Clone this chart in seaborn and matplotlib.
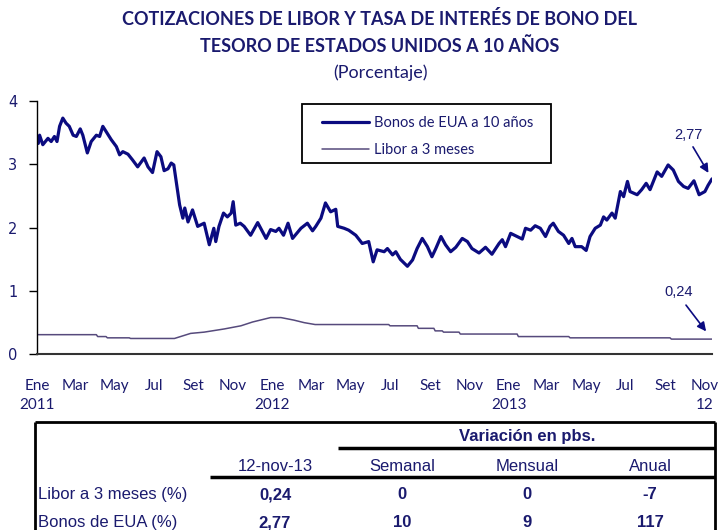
import pandas as pd
import matplotlib
matplotlib.use("Agg")
import matplotlib.pyplot as plt
from matplotlib.lines import Line2D
from matplotlib.patches import Rectangle
import seaborn as sns


# Bonos del Tesoro de EUA a 10 años (%)
bono_fechas = [
    "2011-01-03", "2011-01-05", "2011-01-10", "2011-01-18", "2011-01-23", "2011-01-28",
    "2011-02-01", "2011-02-05", "2011-02-10", "2011-02-15", "2011-02-20", "2011-02-26",
    "2011-03-03", "2011-03-09", "2011-03-13", "2011-03-20", "2011-03-26", "2011-04-03",
    "2011-04-08", "2011-04-13", "2011-04-18", "2011-04-26", "2011-05-04", "2011-05-09",
    "2011-05-14", "2011-05-22", "2011-05-29", "2011-06-06", "2011-06-16", "2011-06-22",
    "2011-06-29", "2011-07-06", "2011-07-12", "2011-07-17", "2011-07-23", "2011-07-28",
    "2011-08-01", "2011-08-07", "2011-08-10", "2011-08-15", "2011-08-18", "2011-08-23",
    "2011-08-30", "2011-09-07", "2011-09-17", "2011-09-25", "2011-10-02", "2011-10-05",
    "2011-10-10", "2011-10-17", "2011-10-23", "2011-10-29", "2011-11-01", "2011-11-05",
    "2011-11-12", "2011-11-18", "2011-11-28", "2011-12-09", "2011-12-22", "2011-12-29",
    "2012-01-06", "2012-01-11", "2012-01-18", "2012-01-25", "2012-02-01", "2012-02-14",
    "2012-02-24", "2012-03-03", "2012-03-08", "2012-03-16", "2012-03-23", "2012-03-31",
    "2012-04-08", "2012-04-11", "2012-04-21", "2012-04-28", "2012-05-09", "2012-05-19",
    "2012-05-29", "2012-06-05", "2012-06-11", "2012-06-22", "2012-06-27", "2012-07-05",
    "2012-07-10", "2012-07-17", "2012-07-28", "2012-08-05", "2012-08-12", "2012-08-20",
    "2012-08-28", "2012-09-04", "2012-09-10", "2012-09-18", "2012-09-25", "2012-10-03",
    "2012-10-11", "2012-10-21", "2012-10-29", "2012-11-05", "2012-11-16", "2012-11-26",
    "2012-12-06", "2012-12-17", "2012-12-22", "2012-12-27", "2013-01-04", "2013-01-14",
    "2013-01-22", "2013-01-27", "2013-02-04", "2013-02-11", "2013-02-19", "2013-02-27",
    "2013-03-06", "2013-03-11", "2013-03-19", "2013-03-27", "2013-04-04", "2013-04-09",
    "2013-04-14", "2013-04-24", "2013-05-01", "2013-05-07", "2013-05-15", "2013-05-23",
    "2013-05-28", "2013-06-02", "2013-06-10", "2013-06-15", "2013-06-23", "2013-06-28",
    "2013-07-04", "2013-07-08", "2013-07-19", "2013-07-26", "2013-08-02", "2013-08-08",
    "2013-08-19", "2013-08-26", "2013-09-05", "2013-09-13", "2013-09-21", "2013-09-29",
    "2013-10-06", "2013-10-15", "2013-10-23", "2013-11-01", "2013-11-06", "2013-11-12",
]
bono_valores = [
    3.33, 3.46, 3.31, 3.41, 3.36, 3.44,
    3.36, 3.60, 3.73, 3.65, 3.60, 3.46,
    3.44, 3.56, 3.46, 3.18, 3.36, 3.46,
    3.44, 3.60, 3.52, 3.39, 3.28, 3.15,
    3.20, 3.16, 3.07, 2.96, 3.10, 2.96,
    2.87, 3.20, 3.12, 2.90, 2.93, 3.02,
    2.99, 2.57, 2.36, 2.15, 2.31, 2.09,
    2.28, 2.02, 2.07, 1.73, 1.99, 1.78,
    2.02, 2.23, 2.17, 2.23, 2.41, 2.04,
    2.07, 2.02, 1.88, 2.08, 1.83, 1.97,
    1.94, 1.99, 1.88, 2.07, 1.83, 1.99,
    2.07, 1.95, 2.02, 2.15, 2.39, 2.25,
    2.29, 2.02, 1.99, 1.96, 1.88, 1.75,
    1.78, 1.46, 1.65, 1.62, 1.67, 1.57,
    1.62, 1.50, 1.39, 1.49, 1.67, 1.83,
    1.70, 1.54, 1.67, 1.86, 1.73, 1.62,
    1.69, 1.83, 1.78, 1.67, 1.60, 1.69,
    1.58, 1.75, 1.81, 1.70, 1.91, 1.86,
    1.82, 1.99, 1.96, 2.03, 1.99, 1.86,
    2.02, 2.07, 1.94, 1.88, 1.75, 1.83,
    1.70, 1.70, 1.64, 1.86, 1.99, 2.04,
    2.17, 2.12, 2.23, 2.15, 2.57, 2.49,
    2.73, 2.57, 2.52, 2.60, 2.70, 2.60,
    2.88, 2.81, 2.99, 2.91, 2.73, 2.65,
    2.62, 2.74, 2.52, 2.57, 2.67, 2.77,
]

# Libor a 3 meses (%)
libor_fechas = [
    "2011-01-03", "2011-04-03", "2011-04-05", "2011-04-18", "2011-04-20", "2011-05-24",
    "2011-05-26", "2011-08-02", "2011-08-27", "2011-09-17", "2011-10-18", "2011-11-13",
    "2011-12-01", "2011-12-29", "2012-01-14", "2012-02-03", "2012-02-19", "2012-03-07",
    "2012-06-29", "2012-07-01", "2012-08-12", "2012-08-14", "2012-09-07", "2012-09-09",
    "2012-09-20", "2012-09-22", "2012-10-16", "2012-10-18", "2013-01-14", "2013-01-16",
    "2013-04-04", "2013-04-06", "2013-09-08", "2013-09-10", "2013-11-12",
]
libor_valores = [
    0.31, 0.31, 0.28, 0.28, 0.26, 0.26,
    0.25, 0.25, 0.33, 0.35, 0.40, 0.45,
    0.51, 0.58, 0.58, 0.54, 0.50, 0.47,
    0.47, 0.45, 0.45, 0.41, 0.41, 0.37,
    0.37, 0.35, 0.35, 0.32, 0.32, 0.28,
    0.28, 0.26, 0.26, 0.24, 0.24,
]

tick_fechas = pd.date_range("2011-01-01", "2013-11-01", freq="2MS")
tick_etiquetas = ["Ene\n2011", "Mar", "May", "Jul", "Set", "Nov",
                  "Ene\n2012", "Mar", "May", "Jul", "Set", "Nov",
                  "Ene\n2013", "Mar", "May", "Jul", "Set", "Nov\n12"]

# tabla inferior
tabla_columnas = ["12-nov-13", "Semanal", "Mensual", "Anual"]
tabla_filas = ["Libor a 3 meses (%)", "Bonos de EUA (%)"]
tabla_valores = [["0,24", "0", "0", "-7"],
                 ["2,77", "10", "9", "117"]]

NAVY = "#0b0b80"
TXT = "#1a1a6e"
LIBOR_COLOR = "#564a7c"

sns.set_theme(style="white")
plt.rcParams["font.family"] = ["Lato", "DejaVu Sans"]

W, H = 724, 530
fig = plt.figure(figsize=(W / 100, H / 100), dpi=100)

def fx(x):
    return x / W

def fy(y):
    return 1 - y / H

ax = fig.add_axes([fx(37), fy(354.3), fx(712 - 37), (354.3 - 101) / H])

bono = pd.DataFrame({"fecha": pd.to_datetime(bono_fechas), "valor": bono_valores})
libor = pd.DataFrame({"fecha": pd.to_datetime(libor_fechas), "valor": libor_valores})

sns.lineplot(data=bono, x="fecha", y="valor", ax=ax, color=NAVY, lw=2.3,
             label="Bonos de EUA a 10 años")
sns.lineplot(data=libor, x="fecha", y="valor", ax=ax, color=LIBOR_COLOR, lw=1.1,
             label="Libor a 3 meses")

ax.set_xlim(pd.Timestamp("2011-01-01"), pd.Timestamp("2013-11-12"))
ax.set_ylim(0, 4)
ax.set_yticks([0, 1, 2, 3, 4])
ax.set_yticklabels(["0", "1", "2", "3", "4"], family="DejaVu Sans", fontsize=10.5, color=TXT)
ax.set_xticks(tick_fechas)
ax.set_xticklabels(tick_etiquetas, fontsize=11, color=TXT, linespacing=1.45)
ax.set_xlabel("")
ax.set_ylabel("")

ax.tick_params(axis="y", direction="out", length=6, width=1, color="black", pad=8, left=True)
ax.tick_params(axis="x", length=0, pad=18)
for s in ["top", "right"]:
    ax.spines[s].set_visible(False)
ax.spines["left"].set_color("black")
ax.spines["left"].set_linewidth(1)
ax.spines["bottom"].set_color("#333333")
ax.spines["bottom"].set_linewidth(1.5)

# leyenda con marco
leg = ax.legend(loc="upper left", bbox_to_anchor=(fx(312), fy(106)),
                bbox_transform=fig.transFigure, frameon=False, fontsize=10.5,
                handlelength=3.2, handletextpad=0.35, labelspacing=0.85,
                borderpad=0.2, labelcolor=TXT)
fig.add_artist(Rectangle((fx(302), fy(163)), fx(551 - 302), (163 - 104) / H,
                         transform=fig.transFigure, fill=False, ec="black", lw=1.3))

# anotaciones
ultimo = pd.Timestamp("2013-11-12")
flecha = dict(arrowstyle="-|>", color=NAVY, lw=1.2, mutation_scale=13, shrinkA=0, shrinkB=0)
ax.annotate("2,77", xy=(ultimo, 2.77), xytext=(-24, 44), textcoords="offset pixels",
            ha="center", va="center", fontsize=10.5, color=TXT, family="Liberation Sans")
ax.annotate("", xy=(ultimo, 2.77), xytext=(-19, 32), textcoords="offset pixels",
            arrowprops=dict(flecha, shrinkB=5))
ax.annotate("0,24", xy=(ultimo, 0.24), xytext=(-33, 47), textcoords="offset pixels",
            ha="center", va="center", fontsize=10.5, color=TXT, family="Liberation Sans")
ax.annotate("", xy=(ultimo, 0.24), xytext=(-26, 34), textcoords="offset pixels",
            arrowprops=dict(flecha, shrinkB=7))

# titulo
fig.text(fx(380), fy(19), "COTIZACIONES DE LIBOR Y TASA DE INTERÉS DE BONO DEL",
         ha="center", va="center", fontsize=13, fontweight="bold", color=TXT)
fig.text(fx(380), fy(46), "TESORO DE ESTADOS UNIDOS A 10 AÑOS",
         ha="center", va="center", fontsize=13, fontweight="bold", color=TXT)
fig.text(fx(380), fy(73), "(Porcentaje)", ha="center", va="center", fontsize=13, color=TXT)

# tabla
def linea(x0, x1, y0, y1, lw):
    fig.add_artist(Line2D([fx(x0), fx(x1)], [fy(y0), fy(y1)], transform=fig.transFigure,
                          color="black", lw=lw, solid_capstyle="butt"))

linea(35, 715, 422, 422, 2)
linea(35, 35, 422, 530, 2)
linea(715, 715, 422, 530, 2)
linea(338, 715, 447.5, 447.5, 2.5)
linea(210, 715, 477, 477, 2.5)

tfont = dict(family="Liberation Sans", fontsize=12, color=TXT, va="center")
fig.text(fx(527), fy(437), "Variación en pbs.", ha="center", fontweight="bold", **tfont)
col_x = [275, 402, 527, 650]
for cx, col in zip(col_x, tabla_columnas):
    fig.text(fx(cx), fy(466.5), col, ha="center", **tfont)
fila_y = [494.5, 522.5]
for fy_, nombre, vals in zip(fila_y, tabla_filas, tabla_valores):
    fig.text(fx(38), fy(fy_), nombre, ha="left", **tfont)
    for cx, v in zip(col_x, vals):
        fig.text(fx(cx), fy(fy_), v, ha="center", fontweight="bold", **tfont)

fig.savefig("out.png", dpi=100)
